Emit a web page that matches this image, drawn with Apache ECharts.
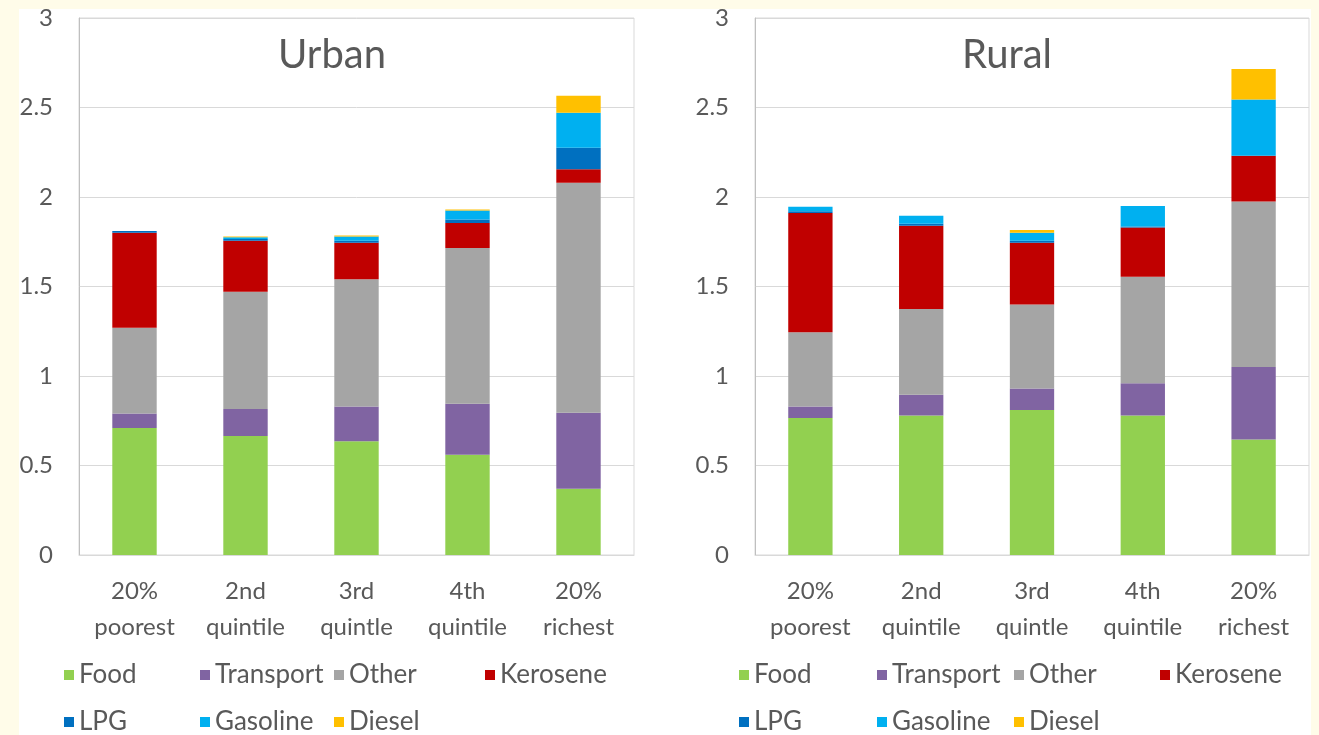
<!DOCTYPE html>
<html>
<head>
<meta charset="utf-8">
<script src="https://cdn.jsdelivr.net/npm/echarts@6/dist/echarts.min.js"></script>
<style>
  html, body { margin: 0; padding: 0; width: 1319px; height: 735px; overflow: hidden; background: #fffce9; }
  #sheet { position: absolute; left: 19px; top: 9px; width: 1292px; height: 726px; background: #ffffff; }
  #chart { position: absolute; left: 0; top: 0; width: 1319px; height: 735px; }
</style>
</head>
<body>
<div id="sheet"></div>
<div id="chart"></div>
<script>
// Household expenditure shares by income quintile, split by component
const quintiles = ['20%\npoorest', '2nd\nquintile', '3rd\nquintle', '4th\nquintile', '20%\nrichest'];
const components = ['Food', 'Transport', 'Other', 'Kerosene', 'LPG', 'Gasoline', 'Diesel'];
const componentColors = ['#92d050', '#8064a2', '#a5a5a5', '#c00000', '#0070c0', '#00b0f0', '#ffc000'];

// Urban households
const urbanFood      = [0.71, 0.665, 0.635, 0.56, 0.37];
const urbanTransport = [0.08, 0.15, 0.195, 0.285, 0.425];
const urbanOther     = [0.48, 0.655, 0.71, 0.87, 1.285];
const urbanKerosene  = [0.53, 0.285, 0.205, 0.14, 0.075];
const urbanLPG       = [0.01, 0.01, 0.01, 0.02, 0.12];
const urbanGasoline  = [0.0, 0.01, 0.025, 0.05, 0.195];
const urbanDiesel    = [0.0, 0.005, 0.005, 0.005, 0.095];

// Rural households
const ruralFood      = [0.765, 0.78, 0.81, 0.78, 0.645];
const ruralTransport = [0.065, 0.115, 0.12, 0.18, 0.405];
const ruralOther     = [0.415, 0.48, 0.47, 0.595, 0.925];
const ruralKerosene  = [0.665, 0.465, 0.345, 0.275, 0.255];
const ruralLPG       = [0.01, 0.01, 0.01, 0.005, 0.0];
const ruralGasoline  = [0.025, 0.045, 0.045, 0.115, 0.315];
const ruralDiesel    = [0.0, 0.0, 0.015, 0.0, 0.17];

const panelTitles = ['Urban', 'Rural'];
const yMin = 0, yMax = 3, yStep = 0.5;

const urbanSets = [urbanFood, urbanTransport, urbanOther, urbanKerosene, urbanLPG, urbanGasoline, urbanDiesel];
const ruralSets = [ruralFood, ruralTransport, ruralOther, ruralKerosene, ruralLPG, ruralGasoline, ruralDiesel];

const textGrey = '#595959';
const font = 'Lato, "Open Sans", sans-serif';
const labelSize = 24;
const legendSize = 26;

function stackSeries(sets, panel) {
  return sets.map((values, i) => ({
    name: components[i],
    type: 'bar',
    stack: 'total' + panel,
    xAxisIndex: panel,
    yAxisIndex: panel,
    barWidth: '40%',
    itemStyle: { color: componentColors[i] },
    emphasis: { disabled: true },
    data: values
  }));
}

const grids = [
  { left: 79, right: 685, top: 18, bottom: 180 },
  { left: 755, right: 10, top: 18, bottom: 180 }
].map(g => Object.assign(g, { show: true, borderColor: '#d9d9d9', borderWidth: 1, backgroundColor: 'transparent' }));

const xAxes = [0, 1].map(i => ({
  type: 'category',
  gridIndex: i,
  data: quintiles,
  axisLine: { show: true, lineStyle: { color: '#d9d9d9' } },
  axisTick: { show: false },
  axisLabel: { color: textGrey, fontSize: labelSize, fontFamily: font, lineHeight: 36, margin: 18 }
}));

const yAxes = [0, 1].map(i => ({
  type: 'value',
  gridIndex: i,
  min: yMin, max: yMax, interval: yStep,
  axisLine: { show: true, lineStyle: { color: '#bfbfbf' } },
  axisTick: { show: false },
  splitLine: { lineStyle: { color: '#d9d9d9' } },
  axisLabel: { color: textGrey, fontSize: labelSize, fontFamily: font, margin: 26 }
}));

const titles = [
  { text: panelTitles[0], left: 327, top: 30, textAlign: 'center' },
  { text: panelTitles[1], left: 1002, top: 30, textAlign: 'center' }
].map(t => Object.assign(t, { textStyle: { color: textGrey, fontSize: 40, fontWeight: 'normal', fontFamily: font } }));

// Legend entries placed in a two-row grid below each panel
const legendRows = [['Food', 'Transport', 'Other', 'Kerosene'], ['LPG', 'Gasoline', 'Diesel']];
const legendRowTop = [661, 708];
const urbanLegendX = [64, 200, 334, 485];
const ruralLegendX = [739, 877, 1014, 1160];

function legendsFor(xs) {
  const out = [];
  legendRows.forEach((row, r) => {
    row.forEach((name, c) => {
      out.push({
        left: xs[c],
        top: legendRowTop[r],
        padding: 0,
        itemWidth: 10,
        itemHeight: 10,
        icon: 'rect',
        selectedMode: false,
        data: [name],
        textStyle: { color: textGrey, fontSize: legendSize, fontFamily: font, lineHeight: 28 }
      });
    });
  });
  return out;
}

const chart = echarts.init(document.getElementById('chart'), null, { renderer: 'canvas' });
chart.setOption({
  animation: false,
  backgroundColor: 'transparent',
  title: titles,
  grid: grids,
  xAxis: xAxes,
  yAxis: yAxes,
  legend: legendsFor(urbanLegendX).concat(legendsFor(ruralLegendX)),
  series: stackSeries(urbanSets, 0).concat(stackSeries(ruralSets, 1))
});
</script>
</body>
</html>
